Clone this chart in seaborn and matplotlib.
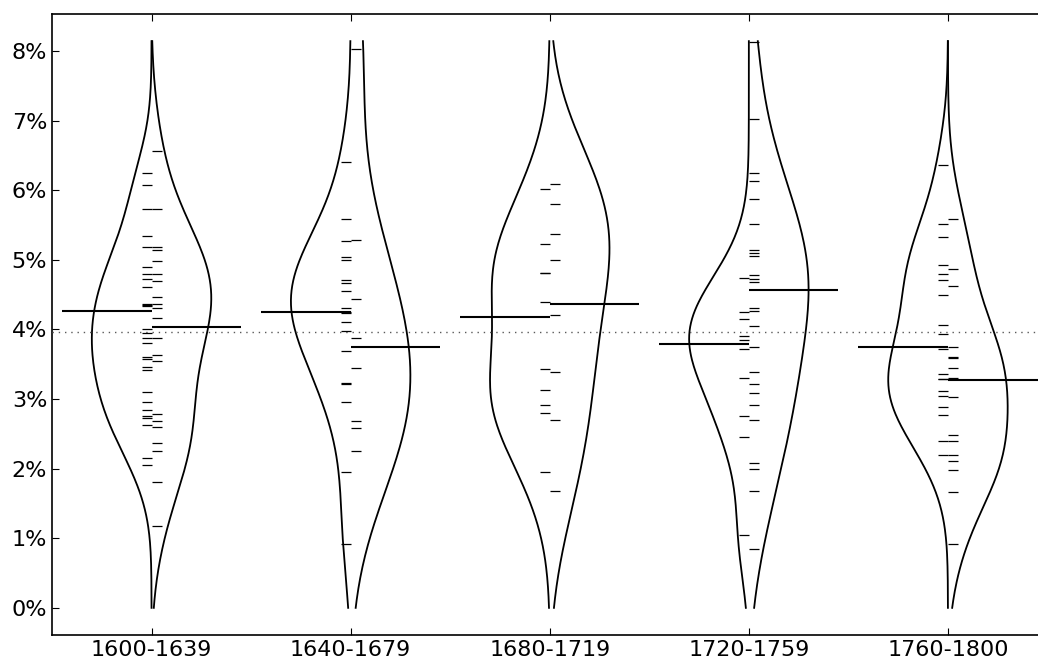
import numpy as np
import pandas as pd
import matplotlib
matplotlib.use("Agg")
import matplotlib.pyplot as plt
from matplotlib.ticker import FuncFormatter
import seaborn as sns

periods = ["1600-1639", "1640-1679", "1680-1719", "1720-1759", "1760-1800"]

left_values = [
    [6.25, 6.07, 5.73, 5.34, 5.18, 4.90, 4.80, 4.73, 4.61, 4.37, 4.35, 4.33, 4.00, 3.95,
     3.88, 3.80, 3.60, 3.58, 3.46, 3.42, 3.10, 2.96, 2.84, 2.75, 2.73, 2.63, 2.15, 2.05],
    [6.41, 5.58, 5.27, 5.04, 5.00, 4.71, 4.66, 4.55, 4.31, 4.25, 4.23, 4.10, 3.97, 3.69,
     3.23, 3.21, 2.96, 1.95, 0.92],
    [6.01, 5.22, 4.81, 4.81, 4.39, 3.43, 3.13, 2.92, 2.80, 1.95],
    [4.74, 4.25, 4.15, 3.91, 3.85, 3.72, 3.30, 2.75, 2.46, 1.04],
    [6.36, 5.52, 5.33, 4.93, 4.79, 4.71, 4.50, 4.06, 3.94, 3.72, 3.36, 3.29, 3.28, 3.11,
     3.04, 2.88, 2.77, 2.39, 2.19],
]
right_values = [
    [6.56, 5.73, 5.19, 5.14, 4.98, 4.80, 4.70, 4.47, 4.36, 4.31, 4.17, 3.88, 3.63, 3.55,
     2.79, 2.68, 2.60, 2.37, 2.26, 1.81, 1.17],
    [8.03, 5.29, 4.43, 3.88, 3.45, 2.69, 2.58, 2.26],
    [6.09, 5.80, 5.37, 5.00, 4.20, 3.39, 2.70, 1.68],
    [8.13, 7.02, 6.25, 6.13, 5.87, 5.51, 5.14, 5.10, 5.06, 4.78, 4.73, 4.68, 4.31, 4.27,
     4.05, 3.75, 3.39, 3.22, 3.08, 2.92, 2.70, 2.08, 2.00, 1.68, 0.84],
    [5.58, 4.87, 4.63, 3.74, 3.61, 3.59, 3.45, 3.30, 3.03, 2.48, 2.39, 2.20, 2.11, 1.98,
     1.67, 0.92],
]
left_means = [4.26, 4.25, 4.18, 3.79, 3.75]
right_means = [4.03, 3.75, 4.36, 4.57, 3.27]
overall_mean = 3.96
y_ticks = [0, 1, 2, 3, 4, 5, 6, 7, 8]
violin_range = (0.0, 8.14)

rows = []
for p, lv, rv in zip(periods, left_values, right_values):
    rows += [(p, "left", v) for v in lv]
    rows += [(p, "right", v) for v in rv]
df = pd.DataFrame(rows, columns=["period", "side", "value"])

plt.rcParams.update({
    "font.family": ["DejaVu Sans"],
    "font.size": 16,
    "xtick.direction": "in",
    "ytick.direction": "in",
    "xtick.major.size": 5,
    "ytick.major.size": 5,
    "xtick.top": True,
    "ytick.right": True,
    "axes.linewidth": 1.2,
})

fig = plt.figure(figsize=(10.38, 6.64), dpi=100)
ax = fig.add_axes([52 / 1038, 29 / 664, 995.5 / 1038, 621 / 664])

sns.violinplot(data=df, x="period", y="value", hue="side", split=True,
               order=periods, hue_order=["left", "right"], inner=None,
               density_norm="width", width=0.6, cut=6, gridsize=400,
               fill=False, linewidth=1.3, linecolor="black",
               palette=["black", "black"], legend=False, ax=ax)

# Keep only the outer curve of each half (drop the straight centre edge),
# limited to the bean's value range.
lo, hi = violin_range
for coll in list(ax.collections):
    trans = coll.get_transform()
    for path in coll.get_paths():
        v = trans.transform(path.vertices)          # display coords
        v = ax.transData.inverted().transform(v)    # back to data coords
        vals, counts = np.unique(np.round(v[:, 0], 9), return_counts=True)
        center = vals[np.argmax(counts)]
        curve = v[np.abs(np.round(v[:, 0], 9) - center) > 0]
        if len(curve) < 5:
            continue
        order = np.argsort(curve[:, 1], kind="stable")
        ys, xs = curve[order, 1], curve[order, 0]
        keep = (ys > lo) & (ys < hi)
        yy = np.concatenate([[lo], ys[keep], [hi]])
        xx = np.concatenate([[np.interp(lo, ys, xs)], xs[keep], [np.interp(hi, ys, xs)]])
        ax.plot(xx, yy, color="black", lw=1.3, zorder=2)
    coll.remove()

ax.axhline(overall_mean, color="0.35", lw=1.0, ls=(0, (1, 3.5)), zorder=3)

tick_len = 0.05
mean_len = 0.45
for i, (lv, rv) in enumerate(zip(left_values, right_values)):
    ax.hlines(lv, i - tick_len, i, color="black", lw=0.9, zorder=4)
    ax.hlines(rv, i, i + tick_len, color="black", lw=0.9, zorder=4)
    ax.hlines(left_means[i], i - mean_len, i, color="black", lw=1.5, zorder=5)
    ax.hlines(right_means[i], i, i + mean_len, color="black", lw=1.5, zorder=5)

ax.set_xlim(-0.5, 4.5)
ax.set_ylim(-0.39, 8.53)
ax.set_yticks(y_ticks)
ax.yaxis.set_major_formatter(FuncFormatter(lambda v, _: f"{v:.0f}%"))
ax.set_xticks(range(len(periods)))
ax.set_xticklabels(periods)
ax.set_xlabel("")
ax.set_ylabel("")
for s in ax.spines.values():
    s.set_color("black")

fig.savefig("out.png", dpi=100)
